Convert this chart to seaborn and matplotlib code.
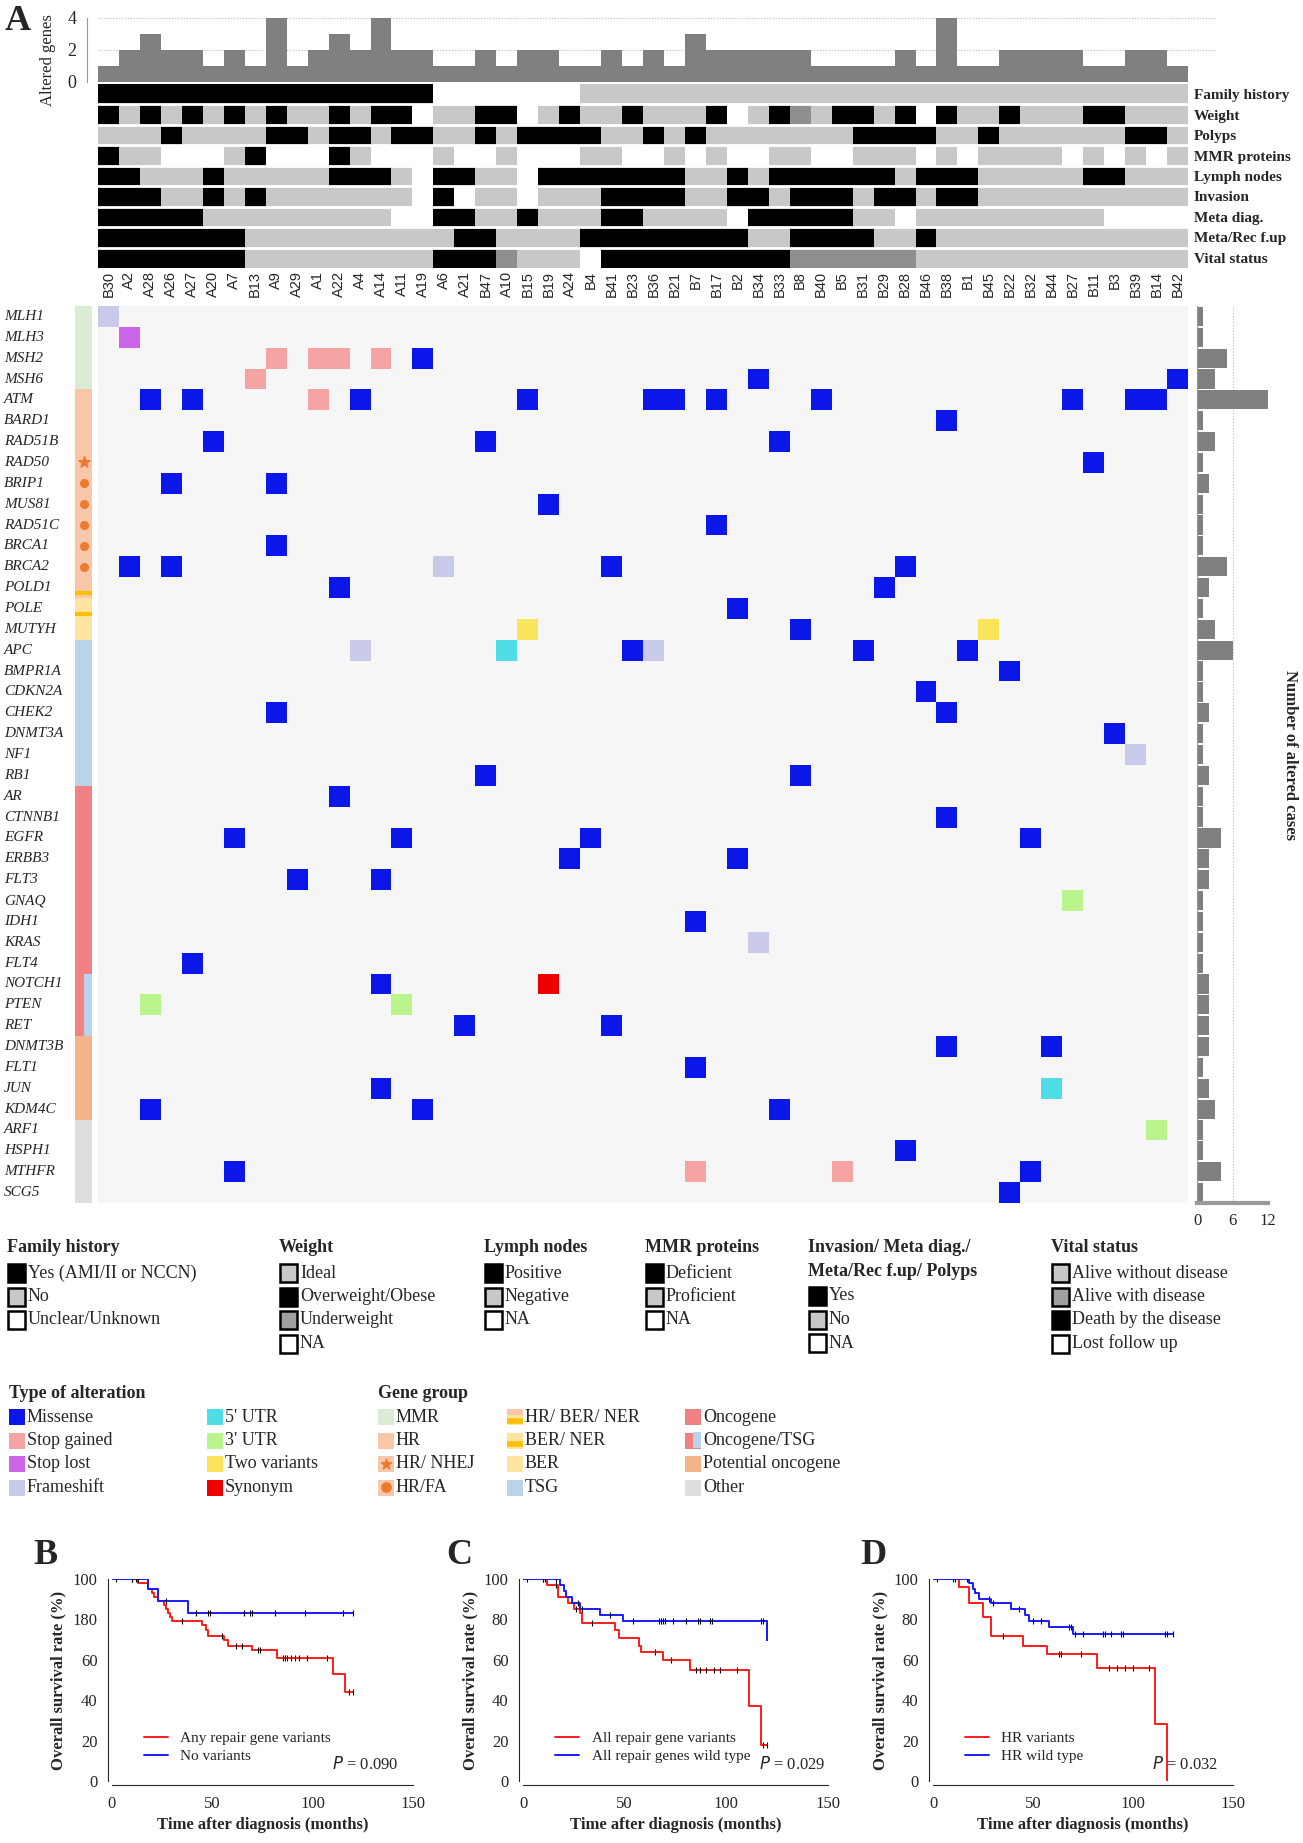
import numpy as np
import pandas as pd
import seaborn as sns
import matplotlib.pyplot as plt
from matplotlib.colors import ListedColormap

sns.set_style("white")
plt.rcParams['font.family'] = ['Liberation Serif', 'DejaVu Serif']

samples = ["B30", "A2", "A28", "A26", "A27", "A20", "A7", "B13", "A9", "A29", "A1", "A22", "A4",
           "A14", "A11", "A19", "A6", "A21", "B47", "A10", "B15", "B19", "A24", "B4", "B41", "B23",
           "B36", "B21", "B7", "B17", "B2", "B34", "B33", "B8", "B40", "B5", "B31", "B29", "B28",
           "B46", "B38", "B1", "B45", "B22", "B32", "B44", "B27", "B11", "B3", "B39", "B14", "B42"]

genes = ["MLH1", "MLH3", "MSH2", "MSH6", "ATM", "BARD1", "RAD51B", "RAD50", "BRIP1", "MUS81",
         "RAD51C", "BRCA1", "BRCA2", "POLD1", "POLE", "MUTYH", "APC", "BMPR1A", "CDKN2A", "CHEK2",
         "DNMT3A", "NF1", "RB1", "AR", "CTNNB1", "EGFR", "ERBB3", "FLT3", "GNAQ", "IDH1", "KRAS",
         "FLT4", "NOTCH1", "PTEN", "RET", "DNMT3B", "FLT1", "JUN", "KDM4C", "ARF1", "HSPH1",
         "MTHFR", "SCG5"]

# alteration types: 1 missense, 2 stop gained, 3 stop lost, 4 frameshift,
# 5 5'UTR, 6 3'UTR, 7 two variants, 8 synonym
alterations = [
    ("MLH1", "B30", 4), ("MLH3", "A2", 3),
    ("MSH2", "A9", 2), ("MSH2", "A1", 2), ("MSH2", "A22", 2), ("MSH2", "A14", 2), ("MSH2", "A19", 1),
    ("MSH6", "B13", 2), ("MSH6", "B34", 1), ("MSH6", "B42", 1),
    ("ATM", "A28", 1), ("ATM", "A27", 1), ("ATM", "A1", 2), ("ATM", "A4", 1), ("ATM", "B15", 1),
    ("ATM", "B36", 1), ("ATM", "B21", 1), ("ATM", "B17", 1), ("ATM", "B40", 1), ("ATM", "B27", 1),
    ("ATM", "B39", 1), ("ATM", "B14", 1),
    ("BARD1", "B38", 1),
    ("RAD51B", "A20", 1), ("RAD51B", "B47", 1), ("RAD51B", "B33", 1),
    ("RAD50", "B11", 1),
    ("BRIP1", "A26", 1), ("BRIP1", "A9", 1),
    ("MUS81", "B19", 1), ("RAD51C", "B17", 1), ("BRCA1", "A9", 1),
    ("BRCA2", "A2", 1), ("BRCA2", "A26", 1), ("BRCA2", "A6", 4), ("BRCA2", "B41", 1), ("BRCA2", "B28", 1),
    ("POLD1", "A22", 1), ("POLD1", "B29", 1), ("POLE", "B2", 1),
    ("MUTYH", "B15", 7), ("MUTYH", "B8", 1), ("MUTYH", "B45", 7),
    ("APC", "A4", 4), ("APC", "A10", 5), ("APC", "B23", 1), ("APC", "B36", 4), ("APC", "B31", 1), ("APC", "B1", 1),
    ("BMPR1A", "B22", 1), ("CDKN2A", "B46", 1), ("CHEK2", "A9", 1), ("CHEK2", "B38", 1),
    ("DNMT3A", "B3", 1), ("NF1", "B39", 4), ("RB1", "B47", 1), ("RB1", "B8", 1),
    ("AR", "A22", 1), ("CTNNB1", "B38", 1),
    ("EGFR", "A7", 1), ("EGFR", "A11", 1), ("EGFR", "B4", 1), ("EGFR", "B32", 1),
    ("ERBB3", "A24", 1), ("ERBB3", "B2", 1), ("FLT3", "A29", 1), ("FLT3", "A14", 1),
    ("GNAQ", "B27", 6), ("IDH1", "B7", 1), ("KRAS", "B34", 4), ("FLT4", "A27", 1),
    ("NOTCH1", "A14", 1), ("NOTCH1", "B19", 8), ("PTEN", "A28", 6), ("PTEN", "A11", 6),
    ("RET", "A21", 1), ("RET", "B41", 1), ("DNMT3B", "B38", 1), ("DNMT3B", "B44", 1),
    ("FLT1", "B7", 1), ("JUN", "A14", 1), ("JUN", "B44", 5),
    ("KDM4C", "A28", 1), ("KDM4C", "A19", 1), ("KDM4C", "B33", 1),
    ("ARF1", "B14", 6), ("HSPH1", "B28", 1),
    ("MTHFR", "A7", 1), ("MTHFR", "B7", 2), ("MTHFR", "B5", 2), ("MTHFR", "B32", 1),
    ("SCG5", "B22", 1),
]

# clinical tracks: 0 white, 1 light grey, 2 black, 3 dark grey
track_names = ["Family history", "Weight", "Polyps", "MMR proteins", "Lymph nodes", "Invasion",
               "Meta diag.", "Meta/Rec f.up", "Vital status"]
family_history = [2]*16 + [0]*7 + [1]*29
weight = [2,1,2,1,2,1,2,1,2,1,1,2,1,2,2,0,1,1,2,2,0,1,2,1,1,2,1,1,1,2,0,1,2,3,1,2,2,1,2,0,2,1,1,2,1,1,1,2,2,1,1,1]
polyps = [1,1,1,2,1,1,1,1,2,2,1,2,2,1,2,2,1,1,2,1,2,2,2,2,1,1,2,1,2,1,1,1,1,1,1,1,2,2,2,2,1,1,2,1,1,1,1,1,1,2,2,1]
mmr = [2,1,1,0,0,0,1,2,0,0,0,2,1,0,0,0,1,0,0,1,0,0,0,1,1,0,0,1,0,1,0,0,1,1,0,0,1,1,1,0,1,0,1,1,1,1,0,1,0,1,0,1]
lymph = [2,2,1,1,1,2,1,1,1,1,1,2,2,2,1,0,2,2,1,1,0,2,2,2,2,2,2,2,1,1,2,1,2,2,2,2,2,2,1,2,2,2,1,1,1,1,1,2,2,1,1,1]
invasion = [2,2,2,1,1,2,1,2,1,1,1,1,1,1,1,0,2,0,1,1,0,1,1,1,2,2,2,2,1,1,2,2,1,2,2,2,1,2,2,1,2,2,1,1,1,1,1,1,1,1,1,1]
meta_diag = [2,2,2,2,2,1,1,1,1,1,1,1,1,1,0,0,2,2,1,1,2,1,1,1,2,2,1,1,1,1,0,2,2,2,2,2,1,1,0,1,1,1,1,1,1,1,1,1,0,0,0,0]
meta_rec = [2]*7 + [1]*10 + [2,2] + [1]*4 + [2]*8 + [1,1] + [2]*4 + [1,1,2] + [1]*12
vital = [2]*7 + [1]*9 + [2,2,2,3,1,1,1,0] + [2]*9 + [3]*6 + [1]*13

# gene groups (left half, right half of the side bar)
group_left = [1]*4 + [2]*9 + [8, 9, 3] + [4]*7 + [5]*9 + [5]*3 + [6]*4 + [7]*4
group_right = [1]*4 + [2]*9 + [8, 9, 3] + [4]*7 + [5]*9 + [4]*3 + [6]*4 + [7]*4
hr_nhej = ["RAD50"]
hr_fa = ["BRIP1", "MUS81", "RAD51C", "BRCA1", "BRCA2"]

# Kaplan-Meier step points (time, survival %) and censor times
km_B_red_t = [0, 13, 18, 20, 21, 23, 26, 27, 28, 29, 30, 45, 47, 48, 56, 58, 70, 82, 110, 116, 120]
km_B_red_s = [100, 98, 95, 93, 91, 89, 87, 85, 83, 81, 79, 77, 75, 72, 70, 67, 65, 61, 53, 44, 44]
km_B_red_c = [10, 12, 35, 55, 62, 65, 73, 74, 85, 86, 87, 89, 91, 93, 97, 107, 118, 120]
km_B_blue_t = [0, 18, 23, 38, 120]
km_B_blue_s = [100, 95, 89, 83, 83]
km_B_blue_c = [2, 10, 13, 27, 42, 48, 49, 66, 69, 70, 81, 96, 115, 120]

km_C_red_t = [0, 12, 17, 22, 25, 28, 29, 45, 47, 57, 58, 69, 82, 111, 117, 120]
km_C_red_s = [100, 97, 91, 88, 85, 83, 78, 75, 71, 67, 64, 60, 55, 37, 18, 18]
km_C_red_c = [10, 16, 26, 34, 65, 73, 85, 87, 90, 94, 97, 105, 118, 120]
km_C_blue_t = [0, 18, 20, 21, 24, 28, 38, 49, 120, 120]
km_C_blue_s = [100, 97, 94, 91, 88, 85, 82, 79, 79, 70]
km_C_blue_c = [2, 10, 11, 16, 27, 29, 43, 54, 67, 68, 69, 70, 74, 80, 86, 87, 92, 93, 117, 118]

km_D_red_t = [0, 13, 18, 25, 29, 45, 57, 82, 111, 117, 117]
km_D_red_s = [100, 96, 88, 81, 72, 67, 63, 56, 28, 0, 0]
km_D_red_c = [35, 63, 64, 74, 88, 92, 96, 100, 108]
km_D_blue_t = [0, 18, 20, 21, 23, 29, 39, 46, 48, 58, 70, 120]
km_D_blue_s = [100, 98, 95, 93, 90, 88, 85, 82, 79, 76, 73, 73]
km_D_blue_c = [2, 10, 11, 17, 28, 30, 43, 50, 54, 68, 69, 71, 75, 85, 86, 89, 94, 95, 116, 117, 120]

W, H = 1303, 1843
fig = plt.figure(figsize=(W / 100, H / 100), dpi=100)


def px_axes(x0, y0, x1, y1):
    return fig.add_axes([x0 / W, 1 - y1 / H, (x1 - x0) / W, (y1 - y0) / H])


# build matrix
mat = pd.DataFrame(0, index=genes, columns=samples)
for g, s, t in alterations:
    mat.loc[g, s] = t
col_counts = (mat > 0).sum(axis=0).values
row_counts = (mat > 0).sum(axis=1).values

alt_colors = ["#f6f6f6", "#0b16e8", "#f6a3a3", "#cc66e8", "#c9c9ea", "#4fdde6", "#b9f58c", "#f9e45c", "#ee0000"]
X0, X1 = 98, 1188

# top bars
ax_top = px_axes(X0, 18, X1, 82)
sns.barplot(x=list(range(len(samples))), y=col_counts, color="#808080", width=1.0,
            edgecolor="#808080", linewidth=0, ax=ax_top)
ax_top.set_xlim(-0.5, len(samples) - 0.5)
ax_top.set_ylim(0, 4)
ax_top.set_yticks([0, 2, 4])
ax_top.tick_params(axis="y", labelsize=13, length=4, color="#999999")
ax_top.set_xticks([])
ax_top.set_xlabel("")
for v in [2, 4]:
    ax_top.plot([-0.5, len(samples) + 0.9], [v, v], color="#bbbbbb", ls=":", lw=0.8, clip_on=False, zorder=0)
for sp in ["top", "right", "bottom"]:
    ax_top.spines[sp].set_visible(False)
ax_top.spines["left"].set_color("#999999")
ax_top.spines["left"].set_position(("outward", 8))

# clinical tracks
tracks = pd.DataFrame([family_history, weight, polyps, mmr, lymph, invasion, meta_diag, meta_rec, vital],
                      index=track_names, columns=samples)
ax_tr = px_axes(X0, 84, X1, 268)
sns.heatmap(tracks, cmap=ListedColormap(["#ffffff", "#c8c8c8", "#000000", "#8f8f8f"]), vmin=-0.5, vmax=3.5,
            cbar=False, linewidths=0, ax=ax_tr)
for i in range(1, len(track_names)):
    ax_tr.axhline(i, color="white", lw=2)
ax_tr.yaxis.tick_right()
ax_tr.set_yticks(np.arange(len(track_names)) + 0.5)
ax_tr.set_yticklabels(track_names, rotation=0, fontsize=11, fontweight="bold")
ax_tr.tick_params(axis="y", length=0, pad=4)
ax_tr.tick_params(axis="x", length=0, pad=2)
ax_tr.set_xticks(np.arange(len(samples)) + 0.5)
ax_tr.set_xticklabels(samples, rotation=90, fontsize=10.5, family="Liberation Sans")
ax_tr.set_xlabel("")

# main matrix
ax_m = px_axes(X0, 306, X1, 1203)
sns.heatmap(mat, cmap=ListedColormap(alt_colors), vmin=-0.5, vmax=8.5, cbar=False, ax=ax_m)
ax_m.set_xticks([])
ax_m.set_yticks([])
ax_m.set_ylabel("")

# gene group side bar
grp = pd.DataFrame({"l": group_left, "r": group_right}, index=genes)
grp_colors = ["#ffffff", "#dcebd4", "#f8c6a8", "#fde4a0", "#b9d3ea", "#f08282", "#f4b487", "#dedede",
              "#f8c6a8", "#fde4a0"]
ax_g = px_axes(75, 306, 92, 1203)
sns.heatmap(grp, cmap=ListedColormap(grp_colors), vmin=-0.5, vmax=9.5, cbar=False, ax=ax_g)
ax_g.set_xticks([])
ax_g.set_yticks([])
ax_g.set_ylabel("")
for g in hr_nhej:
    ax_g.scatter([1], [genes.index(g) + 0.5], marker="*", s=70, color="#ee7a30", zorder=3)
for g in hr_fa:
    ax_g.scatter([1], [genes.index(g) + 0.5], marker="o", s=30, color="#ee7a30", zorder=3)
for g in ["POLD1", "POLE"]:
    ax_g.hlines(genes.index(g) + 0.75, 0, 2, color="#f9bf00", lw=3)

# right bars
ax_r = px_axes(1197, 306, 1268, 1203)
sns.barplot(x=row_counts, y=list(range(len(genes))), orient="h", color="#808080", width=0.92,
            linewidth=0, ax=ax_r)
ax_r.set_ylim(len(genes) - 0.5, -0.5)
ax_r.set_xlim(0, 12)
ax_r.set_xticks([0, 6, 12])
ax_r.tick_params(axis="x", labelsize=12, length=4, color="#999999")
ax_r.set_yticks([])
for v in [6, 12]:
    ax_r.axvline(v, color="#bbbbbb", ls=":", lw=0.8, zorder=0)
for sp in ["top", "right"]:
    ax_r.spines[sp].set_visible(False)
ax_r.spines["left"].set_color("#999999")
ax_r.spines["bottom"].set_color("#999999")
ax_r.spines["bottom"].set_linewidth(3)

# overlay for letters, labels and legends (pixel coords)
ov = fig.add_axes([0, 0, 1, 1], facecolor="none")
ov.set_xlim(0, W)
ov.set_ylim(H, 0)
ov.axis("off")
for letter, x, y in [("A", 5, 22), ("B", 33, 1556), ("C", 446, 1556), ("D", 860, 1556)]:
    ov.text(x, y, letter, fontsize=26, fontweight="bold", va="center")
ov.text(48, 60, "Altered genes", rotation=90, fontsize=12, ha="center", va="center")
ov.text(1290, 755, "Number of altered cases", rotation=270, fontsize=12, fontweight="bold",
        ha="center", va="center")
cell_h = (1203 - 306) / len(genes)
for i, g in enumerate(genes):
    ov.text(4, 306 + (i + 0.5) * cell_h, g, fontsize=11, style="italic", va="center")


def legend_block(x, y, title_lines, items, step=23.5, box=18, fs=13):
    for i, t in enumerate(title_lines):
        ov.text(x, y + i * 23, t, fontsize=13, fontweight="bold", va="center")
    y0 = y + 23 * len(title_lines) + 2
    for i, (fc, lab) in enumerate(items):
        yy = y0 + i * step
        ov.add_patch(plt.Rectangle((x + 1, yy - box / 2), box * 0.95, box, facecolor=fc,
                                   edgecolor="black", lw=1.8))
        ov.text(x + box + 3, yy, lab, fontsize=fs, va="center")


legend_block(7, 1248, ["Family history"], [("#000000", "Yes (AMI/II or NCCN)"), ("#c8c8c8", "No"),
                                          ("#ffffff", "Unclear/Unknown")])
legend_block(279, 1248, ["Weight"], [("#c8c8c8", "Ideal"), ("#000000", "Overweight/Obese"),
                                     ("#a0a0a0", "Underweight"), ("#ffffff", "NA")])
legend_block(484, 1248, ["Lymph nodes"], [("#000000", "Positive"), ("#c8c8c8", "Negative"), ("#ffffff", "NA")])
legend_block(645, 1248, ["MMR proteins"], [("#000000", "Deficient"), ("#c8c8c8", "Proficient"), ("#ffffff", "NA")])
legend_block(808, 1248, ["Invasion/ Meta diag./", "Meta/Rec f.up/ Polyps"],
             [("#000000", "Yes"), ("#c8c8c8", "No"), ("#ffffff", "NA")])
legend_block(1051, 1248, ["Vital status"], [("#c8c8c8", "Alive without disease"), ("#a0a0a0", "Alive with disease"),
                                            ("#000000", "Death by the disease"), ("#ffffff", "Lost follow up")])


def flat_block(x, y, items, step=23.5, box=16):
    for i, (fc, lab) in enumerate(items):
        yy = y + i * step
        ov.add_patch(plt.Rectangle((x, yy - box / 2), box, box, facecolor=fc, edgecolor="none"))
        ov.text(x + box + 2, yy, lab, fontsize=13, va="center")


ov.text(9, 1393, "Type of alteration", fontsize=13, fontweight="bold", va="center")
flat_block(9, 1417, [(alt_colors[1], "Missense"), (alt_colors[2], "Stop gained"),
                     (alt_colors[3], "Stop lost"), (alt_colors[4], "Frameshift")])
flat_block(207, 1417, [(alt_colors[5], "5' UTR"), (alt_colors[6], "3' UTR"),
                       (alt_colors[7], "Two variants"), (alt_colors[8], "Synonym")])
ov.text(378, 1393, "Gene group", fontsize=13, fontweight="bold", va="center")
flat_block(378, 1417, [("#dcebd4", "MMR"), ("#f8c6a8", "HR"), ("#f8c6a8", "HR/ NHEJ"), ("#f8c6a8", "HR/FA")])
ov.scatter([386], [1464], marker="*", s=60, color="#ee7a30", zorder=3)
ov.scatter([386], [1487], marker="o", s=45, color="#ee7a30", zorder=3)
flat_block(507, 1417, [("#fde4a0", "HR/ BER/ NER"), ("#fde4a0", "BER/ NER"), ("#fde4a0", "BER"), ("#b9d3ea", "TSG")])
ov.hlines([1421, 1444], 507, 523, color="#f9bf00", lw=4)
ov.add_patch(plt.Rectangle((507, 1409), 16, 6, facecolor="#f8c6a8", edgecolor="none"))
flat_block(685, 1417, [("#f08282", "Oncogene"), ("#f08282", "Oncogene/TSG"), ("#f4b487", "Potential oncogene"),
                       ("#dedede", "Other")])
ov.add_patch(plt.Rectangle((693, 1432), 8, 16, facecolor="#b9d3ea", edgecolor="none"))


# Kaplan-Meier panels
def km_panel(x0, x1, curves, labels, pval, yticklabels, px=0.95):
    ax = px_axes(x0, 1579, x1, 1781)
    for (t, s, c), col, lab in zip(curves, ["#ff1a1a", "#1a1aff"], labels):
        df = pd.DataFrame({"t": t, "s": s})
        sns.lineplot(data=df, x="t", y="s", drawstyle="steps-post", estimator=None, color=col, lw=1.4,
                     ax=ax, label=lab)
        cs = [s[np.searchsorted(t, ci, side="right") - 1] for ci in c]
        ax.scatter(c, cs, marker="|", color="black", s=25, lw=0.8, zorder=3)
    ax.set_xlim(0, 150)
    ax.set_ylim(0, 100)
    ax.set_xticks([0, 50, 100, 150])
    ax.set_yticks([0, 20, 40, 60, 80, 100])
    ax.set_yticklabels(yticklabels)
    ax.tick_params(labelsize=12, length=4, direction="out")
    for lab in ax.get_xticklabels() + ax.get_yticklabels():
        lab.set_fontweight("bold")
    for sp in ["top", "right"]:
        ax.spines[sp].set_visible(False)
    ax.spines["left"].set_position(("outward", 3))
    ax.spines["bottom"].set_position(("outward", 3))
    ax.set_xlabel("Time after diagnosis (months)", fontsize=12, fontweight="bold")
    ax.set_ylabel("Overall survival rate (%)", fontsize=12, fontweight="bold")
    ax.legend(loc="lower left", bbox_to_anchor=(0.06, 0.02), frameon=False, fontsize=11,
              handlelength=1.6, labelspacing=0.3)
    ax.text(px, 0.06, "$P$ = " + pval, transform=ax.transAxes, ha="right", fontsize=12)
    return ax


km_panel(112, 413, [(km_B_red_t, km_B_red_s, km_B_red_c), (km_B_blue_t, km_B_blue_s, km_B_blue_c)],
         ["Any repair gene variants", "No variants"], "0.090", ["0", "20", "40", "60", "180", "100"])
km_panel(523, 828, [(km_C_red_t, km_C_red_s, km_C_red_c), (km_C_blue_t, km_C_blue_s, km_C_blue_c)],
         ["All repair gene variants", "All repair genes wild type"], "0.029",
         ["0", "20", "40", "60", "80", "100"], px=0.99)
km_panel(933, 1233, [(km_D_red_t, km_D_red_s, km_D_red_c), (km_D_blue_t, km_D_blue_s, km_D_blue_c)],
         ["HR variants", "HR wild type"], "0.032", ["0", "20", "40", "60", "80", "100"])

fig.savefig("out.png", dpi=100)
